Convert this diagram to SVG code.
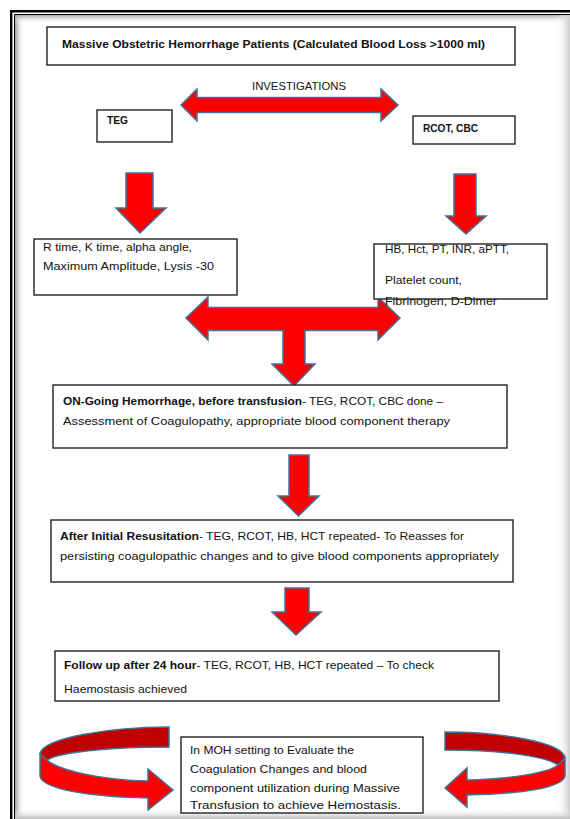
<svg xmlns="http://www.w3.org/2000/svg" width="570" height="819" viewBox="0 0 570 819">
<defs>
<style>
.box{fill:#fff;stroke:#222;stroke-width:1.4}
.t{font-family:"Liberation Sans",Arial,sans-serif;font-size:10.5px;fill:#111}
.b{font-weight:bold}
.arr{fill:#ff0000;stroke:#41719c;stroke-width:1.5;stroke-linejoin:miter}
.dark{fill:#c00000;stroke:#41719c;stroke-width:1.5}
</style>
<linearGradient id="gl" x1="0" y1="0" x2="1" y2="0"><stop offset="0" stop-color="#999"/><stop offset="1" stop-color="#fff" stop-opacity="0"/></linearGradient>
<linearGradient id="gt" x1="0" y1="0" x2="0" y2="1"><stop offset="0" stop-color="#aaa"/><stop offset="1" stop-color="#fff" stop-opacity="0"/></linearGradient>
<linearGradient id="gr" x1="1" y1="0" x2="0" y2="0"><stop offset="0" stop-color="#ccc"/><stop offset="1" stop-color="#fff" stop-opacity="0"/></linearGradient>
<linearGradient id="gb" x1="0" y1="1" x2="0" y2="0"><stop offset="0" stop-color="#bbb"/><stop offset="1" stop-color="#fff" stop-opacity="0"/></linearGradient>
</defs>
<rect width="570" height="819" fill="#fff"/>
<g id="frame">
<rect x="15" y="15" width="9" height="804" fill="url(#gl)"/>
<rect x="15" y="15" width="555" height="9" fill="url(#gt)"/>
<rect x="556" y="15" width="14" height="804" fill="url(#gr)"/>
<rect x="15" y="808" width="555" height="11" fill="url(#gb)"/>
<path d="M11.2,830 V11.2 H590" fill="none" stroke="#000" stroke-width="2.4"/>
<path d="M14.5,830 V14.5 H590" fill="none" stroke="#000" stroke-width="1"/>
</g>
<g id="connectors">
<polygon class="arr" points="181,105 197,89 197,97.5 381,97.5 381,89 398,105 381,121 381,112.5 197,112.5 197,121"/>
<polygon class="arr" points="126,173 153,173 153,208 166,208 140,233 116,208 126,208"/>
<polygon class="arr" points="454,174 476,174 476,216 486,216 466,234 446,216 454,216"/>
<polygon class="arr" points="186,318 208,297 208,307.5 378,307.5 378,297 400,318 378,340 378,330.5 305,330.5 305,364 315,364 294,386 272,364 283,364 283,330.5 208,330.5 208,340"/>
<polygon class="arr" points="289,455 309,455 309,496 319,496 298.5,516 278,496 289,496"/>
<polygon class="arr" points="285,588 309,588 309,612 321,612 296,635 272,612 285,612"/>
<path class="dark" d="M169,727 L169,747 C110,747 60,752 47,760 L40,754 C42,738 110,727 169,727 Z"/>
<path class="arr" d="M40,754 L47,760 C58,770 100,780 148,781 L148,769 L173,790 L148,810 L148,798 C95,797 42,790 40,776 Z"/>
<path class="dark" d="M445,732 L445,750 C500,750 545,756 558,765 L565,758 C563,742 500,732 445,732 Z"/>
<path class="arr" d="M565,758 L558,765 C548,773 510,779 467,780 L467,768 L445,788 L467,807 L467,795 C520,794 563,788 565,776 Z"/>
</g>
<g id="title"><rect class="box" x="47" y="27" width="468" height="38"/>
<text class="t b" x="62" y="47.5" font-size="11.5" textLength="423" lengthAdjust="spacingAndGlyphs">Massive Obstetric Hemorrhage Patients (Calculated Blood Loss &gt;1000 ml)</text></g>
<g id="investigations"><text class="t" x="252" y="90" font-size="10" textLength="94" lengthAdjust="spacingAndGlyphs">INVESTIGATIONS</text></g>
<g id="teg"><rect class="box" x="97" y="110" width="75" height="32"/>
<text class="t b" x="107" y="124" textLength="21" lengthAdjust="spacingAndGlyphs">TEG</text></g>
<g id="rcot"><rect class="box" x="413" y="116" width="102" height="28"/>
<text class="t b" x="423" y="132" textLength="55" lengthAdjust="spacingAndGlyphs">RCOT, CBC</text></g>
<g id="tegparams"><rect class="box" x="34" y="239" width="203" height="56"/>
<text class="t" x="43" y="251" textLength="149" lengthAdjust="spacingAndGlyphs">R time, K time, alpha angle,</text>
<text class="t" x="43" y="270" textLength="171" lengthAdjust="spacingAndGlyphs">Maximum Amplitude, Lysis -30</text></g>
<g id="labparams"><rect class="box" x="374" y="244" width="173" height="55"/>
<text class="t" x="385" y="253" textLength="124" lengthAdjust="spacingAndGlyphs">HB, Hct, PT, INR, aPTT,</text>
<text class="t" x="385" y="284" textLength="77" lengthAdjust="spacingAndGlyphs">Platelet count,</text>
<text class="t" x="385" y="305" textLength="112" lengthAdjust="spacingAndGlyphs">Fibrinogen, D-Dimer</text></g>
<g id="ongoing"><rect class="box" x="53" y="385" width="454" height="63"/>
<text class="t" x="63" y="405" textLength="380" lengthAdjust="spacingAndGlyphs"><tspan class="b">ON-Going Hemorrhage, before transfusion</tspan>- TEG, RCOT, CBC done –</text>
<text class="t" x="63" y="425" textLength="387" lengthAdjust="spacingAndGlyphs">Assessment of Coagulopathy, appropriate blood component therapy</text></g>
<g id="initial"><rect class="box" x="51" y="520" width="462" height="62"/>
<text class="t" x="60" y="540" textLength="404" lengthAdjust="spacingAndGlyphs"><tspan class="b">After Initial Resusitation</tspan>- TEG, RCOT, HB, HCT repeated- To Reasses for</text>
<text class="t" x="60" y="560" textLength="439" lengthAdjust="spacingAndGlyphs">persisting coagulopathic changes and to give blood components appropriately</text></g>
<g id="followup"><rect class="box" x="55" y="651" width="444" height="50"/>
<text class="t" x="64" y="669" textLength="370" lengthAdjust="spacingAndGlyphs"><tspan class="b">Follow up after 24 hour</tspan>- TEG, RCOT, HB, HCT repeated – To check</text>
<text class="t" x="64" y="693" textLength="123" lengthAdjust="spacingAndGlyphs">Haemostasis achieved</text></g>
<g id="moh"><rect class="box" x="181" y="737" width="242" height="76"/>
<text class="t" x="190" y="754" textLength="164" lengthAdjust="spacingAndGlyphs">In MOH setting to Evaluate the</text>
<text class="t" x="190" y="773" textLength="177" lengthAdjust="spacingAndGlyphs">Coagulation Changes and blood</text>
<text class="t" x="190" y="792" textLength="210" lengthAdjust="spacingAndGlyphs">component utilization during Massive</text>
<text class="t" x="190" y="809" textLength="211" lengthAdjust="spacingAndGlyphs">Transfusion to achieve Hemostasis.</text></g>
</svg>
